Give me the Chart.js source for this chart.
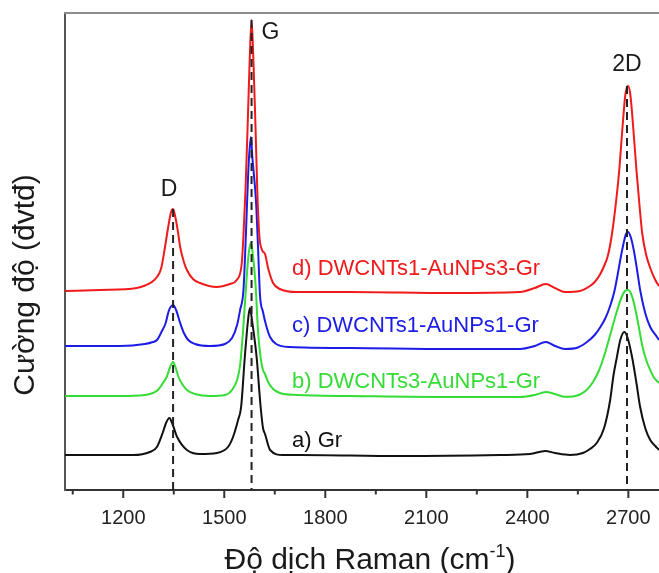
<!DOCTYPE html>
<html>
<head>
<meta charset="utf-8">
<script src="https://cdn.jsdelivr.net/npm/chart.js@4.4.1/dist/chart.umd.min.js"></script>
<style>
  html, body { margin: 0; padding: 0; background: #fff; overflow: hidden; }
  canvas { display: block; }
</style>
</head>
<body>
<canvas id="raman" width="659" height="573"></canvas>
<script>
const FONT = "'Liberation Sans', Arial, Helvetica, sans-serif";

// Raman shift window (cm-1) and axis ticks
const xRange = [1027, 2791];
const yRange = [0, 4770];
const tickValues = [1050, 1200, 1350, 1500, 1650, 1800, 1950, 2100, 2250, 2400, 2550, 2700];
const majorTicks = [1200, 1500, 1800, 2100, 2400, 2700];

// sample names and colours (top to bottom)
const seriesNames = ['d) DWCNTs1-AuNPs3-Gr', 'c) DWCNTs1-AuNPs1-Gr', 'b) DWCNTs3-AuNPs1-Gr', 'a) Gr'];
const seriesColors = ['#f01a1a', '#1c1ce6', '#35dc35', '#111111'];

// spectra: [Raman shift (cm-1), intensity (a.u., vertically offset)]
const specD = [[1027,1990],[1131,2000],[1240,2020],[1265,2045],[1285,2080],[1300,2130],[1312,2210],[1324,2430],[1333,2620],[1342,2780],[1348,2810],[1354,2740],[1363,2570],[1369,2430],[1380,2280],[1389,2200],[1407,2110],[1428,2070],[1477,2030],[1517,2060],[1537,2100],[1552,2270],[1557,2550],[1563,3000],[1569,3600],[1575,4250],[1581,4700],[1587,4250],[1593,3600],[1598,3000],[1604,2550],[1612,2400],[1621,2360],[1630,2220],[1645,2070],[1665,2010],[1716,1980],[1873,1980],[2170,1970],[2378,1980],[2422,2020],[2455,2060],[2482,2020],[2512,1980],[2556,1990],[2586,2040],[2600,2080],[2615,2150],[2628,2240],[2638,2330],[2646,2450],[2655,2650],[2664,2900],[2673,3200],[2682,3600],[2691,3950],[2699,4040],[2706,3950],[2715,3600],[2724,3200],[2733,2850],[2741,2570],[2753,2350],[2765,2220],[2780,2100],[2791,2040]];

const specC = [[1027,1440],[1190,1440],[1264,1460],[1288,1480],[1300,1500],[1315,1590],[1326,1670],[1335,1790],[1348,1850],[1357,1800],[1369,1670],[1380,1570],[1393,1500],[1413,1460],[1457,1440],[1502,1460],[1523,1520],[1538,1650],[1547,1800],[1557,2000],[1563,2450],[1568,2900],[1573,3300],[1579,3530],[1584,3300],[1594,2900],[1600,2450],[1606,1950],[1615,1780],[1624,1650],[1636,1530],[1654,1460],[1695,1430],[1873,1420],[2170,1410],[2378,1410],[2422,1440],[2455,1480],[2482,1440],[2512,1410],[2550,1425],[2577,1480],[2600,1550],[2617,1630],[2632,1720],[2646,1840],[2658,1980],[2668,2150],[2677,2320],[2686,2470],[2693,2560],[2699,2580],[2707,2530],[2716,2400],[2725,2220],[2735,2000],[2750,1770],[2765,1630],[2785,1530],[2791,1500]];

const specB = [[1027,940],[1190,940],[1264,950],[1288,970],[1303,1000],[1318,1070],[1329,1130],[1338,1220],[1348,1280],[1356,1220],[1364,1130],[1375,1060],[1389,1000],[1413,960],[1457,940],[1502,950],[1523,1000],[1538,1100],[1547,1250],[1556,1600],[1565,2050],[1572,2350],[1579,2470],[1585,2350],[1593,2050],[1600,1600],[1608,1320],[1615,1200],[1621,1160],[1630,1080],[1645,1010],[1665,970],[1716,950],[1873,940],[2170,930],[2378,930],[2422,950],[2455,980],[2482,960],[2512,932],[2535,935],[2556,955],[2576,1000],[2595,1080],[2612,1190],[2627,1330],[2641,1490],[2655,1660],[2667,1800],[2679,1920],[2690,1990],[2699,2000],[2707,1970],[2718,1850],[2730,1650],[2741,1450],[2753,1300],[2765,1200],[2775,1130],[2791,1070]];

const specA = [[1027,350],[1229,350],[1279,380],[1300,430],[1318,580],[1327,670],[1337,720],[1345,670],[1360,530],[1389,400],[1428,360],[1478,370],[1511,430],[1526,530],[1541,700],[1550,830],[1561,1330],[1570,1680],[1576,1820],[1583,1680],[1596,1330],[1608,830],[1615,620],[1621,560],[1636,400],[1674,350],[1725,350],[2022,340],[2319,350],[2408,360],[2453,390],[2482,370],[2527,350],[2565,370],[2586,410],[2606,470],[2628,620],[2646,900],[2656,1150],[2666,1330],[2676,1500],[2688,1580],[2697,1530],[2711,1330],[2724,1070],[2735,830],[2750,620],[2765,500],[2780,440],[2791,400]];

// band assignments and the top of the tallest band
const peakNames = ['D', 'G', '2D'];
const peakShift = [1348, 1581, 2696];
const peakTop = [2810, 4700, 4040];

// where the sample names sit (data coordinates of text baseline start)
const nameAnchor = [[1701, 2150], [1701, 1583], [1701, 1017], [1701, 433]];
// offsets of band letters from the top of each dashed marker (px)
const peakLabelOffset = [[-4, -19], [19, 13], [0, -21]];

const spectra = [specD, specC, specB, specA];

const overlay = {
  id: 'ramanOverlay',
  afterDatasetsDraw(chart) {
    const { ctx, chartArea: a, scales: { x, y } } = chart;
    ctx.save();
    // dashed markers at D, G and 2D bands
    ctx.setLineDash([8, 5]);
    ctx.lineWidth = 2;
    ctx.strokeStyle = '#222';
    peakShift.forEach((s, i) => {
      const px = x.getPixelForValue(s);
      ctx.beginPath();
      ctx.moveTo(px, y.getPixelForValue(peakTop[i]));
      ctx.lineTo(px, a.bottom);
      ctx.stroke();
    });
    ctx.setLineDash([]);

    // frame top edge
    ctx.strokeStyle = '#8c8c8c';
    ctx.lineWidth = 2;
    ctx.beginPath();
    ctx.moveTo(a.left - 1, a.top);
    ctx.lineTo(a.right, a.top);
    ctx.stroke();

    // tick marks below the x axis (major long, minor short)
    ctx.strokeStyle = '#333';
    ctx.lineWidth = 2;
    tickValues.forEach(v => {
      const px = x.getPixelForValue(v);
      const len = majorTicks.includes(v) ? 8 : 4.5;
      ctx.beginPath();
      ctx.moveTo(px, a.bottom);
      ctx.lineTo(px, a.bottom + len);
      ctx.stroke();
    });

    // band letters
    ctx.fillStyle = '#1a1a1a';
    ctx.font = '23px ' + FONT;
    ctx.textAlign = 'center';
    ctx.textBaseline = 'middle';
    peakNames.forEach((n, i) => {
      const px = x.getPixelForValue(peakShift[i]) + peakLabelOffset[i][0];
      const py = y.getPixelForValue(peakTop[i]) + peakLabelOffset[i][1];
      ctx.fillText(n, px, py);
    });

    // sample names
    ctx.font = '22px ' + FONT;
    ctx.textAlign = 'left';
    ctx.textBaseline = 'alphabetic';
    seriesNames.forEach((n, i) => {
      ctx.fillStyle = seriesColors[i];
      ctx.fillText(n, x.getPixelForValue(nameAnchor[i][0]), y.getPixelForValue(nameAnchor[i][1]));
    });

    // x axis title with superscript
    const mainFont = '30px ' + FONT, supFont = '18px ' + FONT;
    const t1 = 'Độ dịch Raman (cm', t2 = '-1', t3 = ')';
    ctx.fillStyle = '#1a1a1a';
    ctx.font = mainFont; const w1 = ctx.measureText(t1).width, w3 = ctx.measureText(t3).width;
    ctx.font = supFont; const w2 = ctx.measureText(t2).width;
    let tx = 370 - (w1 + w2 + w3) / 2;
    const ty = 569;
    ctx.font = mainFont; ctx.fillText(t1, tx, ty); tx += w1;
    ctx.font = supFont; ctx.fillText(t2, tx, ty - 12); tx += w2;
    ctx.font = mainFont; ctx.fillText(t3, tx, ty);

    // y axis title
    ctx.translate(34, 285);
    ctx.rotate(-Math.PI / 2);
    ctx.textAlign = 'center';
    ctx.font = mainFont;
    ctx.fillText('Cường độ (đvtđ)', 0, 0);
    ctx.restore();
  }
};

new Chart(document.getElementById('raman'), {
  type: 'line',
  data: {
    datasets: spectra.map((s, i) => ({
      label: seriesNames[i],
      data: s.map(p => ({ x: p[0], y: p[1] })),
      borderColor: seriesColors[i],
      borderWidth: 2,
      pointRadius: 0,
      fill: false,
      cubicInterpolationMode: 'monotone'
    }))
  },
  options: {
    responsive: false,
    animation: false,
    devicePixelRatio: 1,
    layout: { padding: { top: 13, right: 0, left: 0, bottom: 0 } },
    plugins: { legend: { display: false }, tooltip: { enabled: false } },
    scales: {
      x: {
        type: 'linear',
        min: xRange[0],
        max: xRange[1],
        afterBuildTicks: s => { s.ticks = tickValues.map(v => ({ value: v })); },
        afterFit: s => { s.height = 83; s.paddingLeft = 0; s.paddingRight = 0; },
        grid: { display: false },
        border: { display: true, color: '#333', width: 2 },
        ticks: {
          autoSkip: false, maxRotation: 0, padding: 8,
          font: { family: FONT, size: 20 }, color: '#222',
          callback: v => majorTicks.includes(v) ? String(v) : ''
        }
      },
      y: {
        min: yRange[0],
        max: yRange[1],
        afterFit: s => { s.width = 65; s.paddingTop = 0; s.paddingBottom = 0; },
        grid: { display: false },
        border: { display: true, color: '#555', width: 2 },
        ticks: { display: false }
      }
    }
  },
  plugins: [overlay]
});
</script>
</body>
</html>
